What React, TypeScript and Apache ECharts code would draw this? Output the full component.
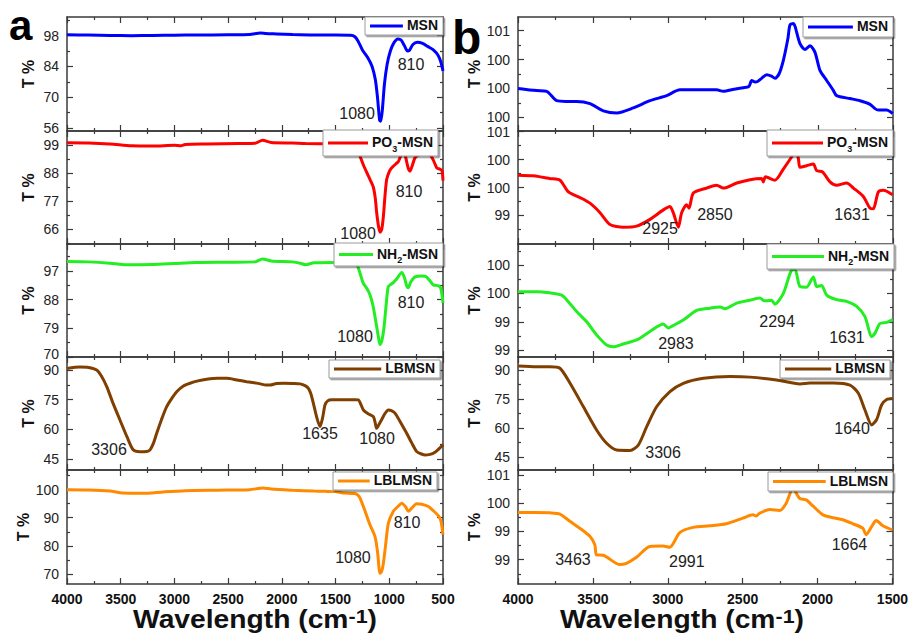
import React, { useEffect, useRef } from 'react';
import * as echarts from 'echarts';

const FONT = "'Liberation Sans', Arial, Helvetica, sans-serif";

// ---------- Panel a (4000-500 cm-1) ----------
const msnA = [[4000,98.4],[3800,98.3],[3600,98.1],[3400,98.0],[3200,98.1],[3000,98.2],[2800,98.3],[2500,98.4],[2300,98.5],[2200,99.2],[2150,99.0],[2050,98.8],[1900,98.5],[1700,98.3],[1500,98.3],[1360,98.2],[1320,97.5],[1290,95.5],[1250,91.5],[1200,88],[1160,84],[1130,78],[1110,70],[1090,59.5],[1080,59],[1065,64],[1045,76],[1020,85],[990,91],[960,94.5],[920,96.5],[890,96],[860,93.5],[830,91],[810,91.5],[780,94],[740,95],[690,94.5],[640,93],[590,91.5],[545,89],[520,86],[500,82]];
const po3A = [[4000,99.8],[3800,99.7],[3600,99.3],[3400,98.6],[3200,98.5],[3000,98.8],[2940,98.6],[2900,99.1],[2700,99.3],[2400,99.5],[2250,99.6],[2180,100.8],[2100,99.9],[1900,99.7],[1780,99.5],[1500,99.4],[1350,99.3],[1300,97.5],[1272,94.5],[1240,91],[1210,88.2],[1180,85.5],[1149,82.5],[1130,78],[1118,72.7],[1100,67],[1086,64.8],[1070,66],[1055,71],[1040,79],[1024,85.5],[1000,88.5],[977,90],[940,91.5],[915,92.5],[890,95],[870,96],[850,94.5],[825,90],[807,88.7],[785,91],[760,94],[720,95.2],[680,95.5],[640,95.4],[618,95],[590,93],[558,90],[530,89.5],[510,89],[500,85]];
const nh2A = [[4000,99.9],[3800,99.8],[3600,99.4],[3450,98.9],[3200,99.0],[3000,99.3],[2800,99.6],[2500,99.7],[2250,99.8],[2180,100.7],[2100,100.1],[1900,99.8],[1820,99.3],[1780,98.9],[1700,99.5],[1500,99.6],[1330,99.4],[1300,98.8],[1270,96],[1244,93.2],[1210,91.5],[1180,89.5],[1150,85.8],[1118,79.6],[1100,76],[1086,73.9],[1070,75],[1050,79],[1030,86],[1010,92],[985,92.8],[965,93.2],[930,94.5],[884,96.5],[860,95],[840,92.5],[824,91.7],[800,93.5],[760,95.1],[700,95.4],[660,95.2],[620,93.8],[590,92.6],[540,92.3],[520,91.5],[500,87]];
const lbA = [[4000,90.8],[3880,91.5],[3800,91.3],[3724,90],[3680,87],[3630,81.6],[3570,73],[3507,64.7],[3440,56],[3384,49.6],[3322,48.7],[3260,48.8],[3227,49.6],[3195,53],[3165,58],[3120,65],[3072,71.5],[3020,76],[2979,79],[2920,81.8],[2855,83.3],[2780,84.5],[2700,85.3],[2600,85.8],[2513,85.8],[2420,85],[2327,84.1],[2200,83],[2150,82.4],[2110,82.4],[2050,83.2],[1986,83.3],[1900,83.2],[1831,83],[1780,82],[1753,80.7],[1730,78],[1707,73.2],[1675,66],[1645,61.4],[1620,66],[1598,72.4],[1570,74.5],[1536,74.9],[1400,75],[1320,75],[1288,74.9],[1260,72],[1241,69.8],[1200,68],[1148,66.4],[1130,63],[1118,60.5],[1095,62.5],[1070,65],[1040,68],[1009,69.8],[980,69.5],[947,68.2],[900,64],[838,58],[790,53],[744,48.7],[700,47.5],[667,47],[620,47.3],[590,47.9],[550,49.5],[500,52.1]];
const lblA = [[4000,100],[3800,99.9],[3600,99.5],[3478,98.8],[3300,98.7],[3100,99.2],[2900,99.6],[2600,99.8],[2300,100],[2175,100.6],[2100,100.2],[1900,99.8],[1700,99.5],[1600,99.4],[1500,99.3],[1430,98.8],[1320,98.6],[1290,98],[1272,97],[1225,92.3],[1180,87.5],[1133,83.3],[1110,78],[1086,70.2],[1070,71],[1055,73.8],[1035,80],[1009,88],[962,92.3],[920,94],[884,95.2],[850,94],[822,92.3],[790,93.5],[744,95],[700,94.8],[636,94],[590,92.5],[543,90.7],[520,89],[500,84]];

// ---------- Panel b (4000-1500 cm-1) ----------
const msnB = [[4000,100.0],[3876,99.97],[3809,99.96],[3742,99.83],[3680,99.82],[3609,99.82],[3520,99.79],[3431,99.69],[3342,99.66],[3231,99.73],[3120,99.83],[3009,99.9],[2920,99.98],[2800,99.98],[2676,99.98],[2631,99.96],[2560,99.99],[2498,100.01],[2460,100.03],[2442,100.11],[2420,100.09],[2400,100.1],[2376,100.14],[2342,100.19],[2310,100.17],[2287,100.14],[2260,100.2],[2231,100.39],[2200,100.7],[2187,100.88],[2165,100.9],[2153,100.86],[2120,100.62],[2087,100.54],[2053,100.59],[2020,100.5],[1987,100.25],[1942,100.11],[1900,99.98],[1876,99.9],[1787,99.86],[1720,99.83],[1653,99.78],[1620,99.72],[1598,99.7],[1542,99.7],[1520,99.68],[1502,99.65]];
const po3B = [[4000,99.72],[3898,99.71],[3850,99.69],[3787,99.66],[3720,99.63],[3664,99.42],[3587,99.32],[3520,99.22],[3453,99.05],[3387,98.84],[3298,98.79],[3209,98.81],[3120,98.93],[3031,99.1],[2987,99.16],[2965,99.05],[2931,98.79],[2909,99.05],[2876,99.19],[2860,99.13],[2831,99.4],[2742,99.49],[2676,99.54],[2631,99.49],[2542,99.58],[2453,99.64],[2376,99.66],[2365,99.6],[2350,99.69],[2287,99.63],[2231,99.83],[2164,100.1],[2150,100.25],[2130,100.0],[2120,99.86],[2076,99.89],[2031,99.92],[2009,99.8],[1970,99.78],[1920,99.6],[1876,99.54],[1809,99.58],[1764,99.49],[1698,99.34],[1653,99.13],[1631,99.12],[1598,99.42],[1564,99.45],[1502,99.37]];
const nh2B = [[4000,99.53],[3876,99.53],[3787,99.51],[3709,99.47],[3676,99.39],[3609,99.18],[3542,99.0],[3476,98.77],[3409,98.59],[3364,98.56],[3298,98.61],[3209,98.68],[3120,98.83],[3031,98.96],[2998,98.89],[2975,98.92],[2898,99.03],[2809,99.2],[2720,99.24],[2653,99.26],[2620,99.23],[2542,99.33],[2453,99.38],[2387,99.42],[2360,99.37],[2342,99.37],[2310,99.38],[2287,99.31],[2231,99.5],[2176,99.91],[2153,99.92],[2120,99.62],[2076,99.61],[2031,99.79],[2009,99.62],[1976,99.64],[1942,99.47],[1876,99.39],[1809,99.36],[1742,99.27],[1687,99.09],[1642,98.74],[1620,98.8],[1587,98.97],[1542,98.99],[1502,99.04]];
const lbB = [[4000,92.1],[3876,91.7],[3787,91.7],[3720,90.9],[3653,83.1],[3564,71],[3476,59],[3409,52.1],[3342,48.6],[3253,48.4],[3198,51.2],[3142,60.7],[3076,71],[2987,78.8],[2898,83.1],[2764,85.7],[2587,86.6],[2453,86.3],[2276,84.8],[2120,82.8],[2053,83.3],[1898,83.3],[1787,82.2],[1731,78],[1687,69.3],[1642,61.6],[1609,64.4],[1576,71.9],[1542,74.7],[1502,75.2]];
const lblB = [[4000,99.77],[3898,99.77],[3787,99.76],[3720,99.73],[3653,99.55],[3587,99.38],[3520,99.18],[3487,98.97],[3476,98.72],[3431,98.71],[3320,98.48],[3276,98.51],[3209,98.66],[3120,98.93],[3031,98.94],[2987,98.91],[2920,99.27],[2831,99.4],[2720,99.44],[2609,99.49],[2498,99.63],[2431,99.71],[2410,99.68],[2387,99.75],[2320,99.84],[2253,99.82],[2209,100.0],[2164,100.37],[2120,100.12],[2076,100.08],[2031,99.93],[1964,99.71],[1898,99.64],[1831,99.59],[1764,99.49],[1698,99.38],[1676,99.22],[1631,99.47],[1609,99.57],[1564,99.44],[1502,99.34]];

// ---------- names, colours, axes ----------
const seriesNames = ['MSN', 'PO3-MSN', 'NH2-MSN', 'LBMSN', 'LBLMSN'];
const legendParts = [['MSN', '', ''], ['PO', '3', '-MSN'], ['NH', '2', '-MSN'], ['LBMSN', '', ''], ['LBLMSN', '', '']];
const seriesColors = ['#0000ff', '#ff0000', '#22ee22', '#7f3f00', '#ff8a00'];

const yMinA = [54.6, 60.2, 70, 39.4, 66.4];
const yMaxA = [106.5, 104.4, 105.4, 96.6, 107];
const yTicksA = [[56, 70, 84, 98], [66, 77, 88, 99], [70, 79, 88, 97], [45, 60, 75, 90], [70, 80, 90, 100]];
const yMinorA = [[63, 77, 91, 105], [60.5, 71.5, 82.5, 93.5], [74.5, 83.5, 92.5, 101.5], [52.5, 67.5, 82.5], [75, 85, 95, 105]];

const yMinB = [99.41, 98.49, 98.38, 38.3, 98.0];
const yMaxB = [100.99, 100.51, 100.37, 96.7, 100.82];
const yTicksB = [[99.6, 100, 100.4, 100.8], [99, 99.5, 100, 100.5], [98.5, 99, 99.5, 100], [45, 60, 75, 90], [98.6, 99.3, 100, 100.7]];
const yMinorB = [[99.8, 100.2, 100.6], [98.75, 99.25, 99.75, 100.25], [98.75, 99.25, 99.75, 100.25], [52.5, 67.5, 82.5], [98.25, 98.95, 99.65, 100.35]];

const annA = [
  [['1080', 1300, 62.4], ['810', 798, 84.7]],
  [['810', 816, 80.9], ['1080', 1291, 64.3]],
  [['810', 798, 87], ['1080', 1319, 76.4]],
  [['3306', 3609, 49.6], ['1635', 1645, 57.7], ['1080', 1114, 55.2]],
  [['810', 835, 88.2], ['1080', 1338, 75.7]],
];
const annB = [
  [],
  [['2925', 3053, 98.76], ['2850', 2687, 99.02], ['1631', 1773, 99.02]],
  [['2983', 2947, 98.61], ['2294', 2273, 99.0], ['1631', 1807, 98.73]],
  [['3306', 3033, 47.6], ['1640', 1773, 60.0]],
  [['3463', 3633, 98.6], ['2991', 2873, 98.55], ['1664', 1787, 98.97]],
];

export default function App() {
  const ref = useRef<HTMLDivElement>(null);
  useEffect(() => {
    if (!ref.current) return;
    const chart = echarts.init(ref.current, null, { renderer: 'svg' });
    const canvas = document.createElement('canvas');
    const ctx = canvas.getContext('2d')!;
    const measure = (s: string, size: number) => {
      ctx.font = `bold ${size}px "Liberation Sans"`;
      return ctx.measureText(s).width;
    };

    const panels = [
      { left: 67, right: 443, min: 500, data: [msnA, po3A, nh2A, lbA, lblA], yMin: yMinA, yMax: yMaxA, ticks: yTicksA, minor: yMinorA, ann: annA, round: false, nameGap: 31,
        leg: [[365, 17, 443, 35], [323, 130, 438, 156], [334, 243, 443, 266], [329, 360, 440, 378], [333, 472, 437, 490]] },
      { left: 518, right: 893, min: 1500, data: [msnB, po3B, nh2B, lbB, lblB], yMin: yMinB, yMax: yMaxB, ticks: yTicksB, minor: yMinorB, ann: annB, round: true, nameGap: 36,
        leg: [[803, 17, 893, 37], [767, 130, 893, 156], [767, 244, 894, 269], [780, 360, 890, 378], [768, 472, 893, 491]] },
    ];
    const tops = [17, 131, 244, 357, 470];
    const bottom = 584;
    const frame = '#3a3a3a';
    const grids: any[] = [], xAxes: any[] = [], yAxes: any[] = [], series: any[] = [], graphics: any[] = [];

    panels.forEach((p) => {
      for (let r = 0; r < 5; r++) {
        const g = grids.length;
        const top = tops[r];
        const h = (r < 4 ? tops[r + 1] : bottom) - top;
        grids.push({ left: p.left, top, width: p.right - p.left, height: h, containLabel: false });
        const axisLine = { show: true, onZero: false, lineStyle: { color: frame, width: 1.5 } };
        const xBase = {
          type: 'value', gridIndex: g, min: p.min, max: 4000, interval: 500, inverse: true,
          splitLine: { show: false }, axisLine,
          axisTick: { show: true, inside: true, length: 6, lineStyle: { color: frame, width: 1.2 } },
          minorTick: { show: true, splitNumber: 2, length: 3, lineStyle: { color: frame, width: 1.2 } },
        };
        xAxes.push({ ...xBase, position: 'bottom',
          axisLabel: r === 4 ? { show: true, showMinLabel: true, showMaxLabel: true, margin: 8, fontSize: 14, fontWeight: 'bold', color: '#111', fontFamily: FONT,
            formatter: (v: number) => String(v) } : { show: false } });
        xAxes.push({ ...xBase, position: 'top', axisLabel: { show: false } });

        const yBase = { type: 'value', gridIndex: g, min: p.yMin[r], max: p.yMax[r], splitLine: { show: false } };
        const tickStyle = { color: frame, width: 1.2 };
        const lowEdge = p.yMin[r];
        yAxes.push({ ...yBase, position: 'left', axisLine,
          axisTick: { show: true, inside: true, length: 6, customValues: p.ticks[r], lineStyle: tickStyle },
          axisLabel: { show: true, customValues: p.ticks[r], margin: 8, fontSize: 14, color: '#222', fontFamily: FONT,
            formatter: (v: number) => {
              const s = p.round ? String(Math.round(v)) : String(v);
              return Math.abs(v - lowEdge) < 1e-6 ? `{u|${s}}` : s;
            },
            rich: { u: { fontSize: 14, color: '#222', fontFamily: FONT, padding: [0, 0, 6, 0] } } },
          name: 'T %', nameLocation: 'middle', nameGap: p.nameGap, nameRotate: 90,
          nameTextStyle: { fontSize: 16, fontWeight: 'bold', color: '#111', fontFamily: FONT } });
        yAxes.push({ ...yBase, position: 'right', axisLine,
          axisTick: { show: true, inside: true, length: 6, customValues: p.ticks[r], lineStyle: tickStyle }, axisLabel: { show: false } });
        yAxes.push({ ...yBase, position: 'left', axisLine: { show: false },
          axisTick: { show: true, inside: true, length: 3, customValues: p.minor[r], lineStyle: tickStyle }, axisLabel: { show: false } });
        yAxes.push({ ...yBase, position: 'right', axisLine: { show: false },
          axisTick: { show: true, inside: true, length: 3, customValues: p.minor[r], lineStyle: tickStyle }, axisLabel: { show: false } });

        series.push({
          type: 'line', name: seriesNames[r], xAxisIndex: 2 * g, yAxisIndex: 4 * g, data: p.data[r],
          showSymbol: false, symbol: 'none', smooth: 0.25, silent: true,
          lineStyle: { color: seriesColors[r], width: 3 }, itemStyle: { color: seriesColors[r] },
          markPoint: {
            symbol: 'rect', symbolSize: 1, silent: true, itemStyle: { color: 'rgba(0,0,0,0)' },
            label: { show: true, position: 'inside', formatter: '{b}', fontSize: 16, color: '#222', fontFamily: FONT },
            data: p.ann[r].map((a: any) => ({ name: a[0], coord: [a[1], a[2]] })),
          },
        });

        // legend box
        const [x0, y0, x1, y1] = p.leg[r];
        const [t1, sub, t2] = legendParts[r];
        const tw = measure(t1 + t2, 14) + (sub ? measure(sub, 9) : 0);
        const tx = x1 - 5 - tw;
        const cy = (y0 + y1) / 2;
        graphics.push({
          type: 'group', z: 100,
          children: [
            { type: 'rect', z: 100, shape: { x: x0, y: y0, width: x1 - x0, height: y1 - y0 },
              style: { fill: '#fff', stroke: '#9a9a9a', lineWidth: 1, shadowColor: 'rgba(0,0,0,0.45)', shadowOffsetX: 1.5, shadowOffsetY: 1.5, shadowBlur: 1 } },
            { type: 'line', z: 101, shape: { x1: x0 + 5, y1: cy, x2: tx - 4, y2: cy }, style: { stroke: seriesColors[r], lineWidth: 3 } },
            { type: 'text', z: 101, x: tx, y: cy - 8,
              style: {
                text: sub ? `{t|${t1}}{s|${sub}}{t|${t2}}` : `{t|${t1}}`,
                verticalAlign: 'top', align: 'left',
                rich: {
                  t: { fontSize: 14, fontWeight: 'bold', lineHeight: 16, verticalAlign: 'top', fill: '#111', fontFamily: FONT },
                  s: { fontSize: 9, fontWeight: 'bold', lineHeight: 11, padding: [9, 0, 0, 0], verticalAlign: 'top', fill: '#111', fontFamily: FONT },
                },
              } },
          ],
        });
      }
    });

    // x-axis titles
    const titleRich = {
      m: { fontSize: 25, fontWeight: 'bold', lineHeight: 28, verticalAlign: 'top', fill: '#111', fontFamily: FONT },
      s: { fontSize: 19, fontWeight: 'bold', lineHeight: 16, verticalAlign: 'top', fill: '#111', fontFamily: FONT },
    };
    [255, 682].forEach((cx) => {
      graphics.push({ type: 'text', z: 100, x: cx, y: 607, scaleX: 1.13,
        style: { text: '{m|Wavelength (cm}{s|-1}{m|)}', align: 'center', verticalAlign: 'top', rich: titleRich } });
    });
    // panel letters
    graphics.push({ type: 'text', z: 100, x: 9, y: 25, style: { text: 'a', fontSize: 42, fontWeight: 'bold', fill: '#000', fontFamily: FONT, verticalAlign: 'middle', align: 'left' } });
    graphics.push({ type: 'text', z: 100, x: 452, y: 37, style: { text: 'b', fontSize: 48, fontWeight: 'bold', fill: '#000', fontFamily: FONT, verticalAlign: 'middle', align: 'left' } });

    chart.setOption({
      animation: false,
      backgroundColor: '#fff',
      textStyle: { fontFamily: FONT },
      grid: grids,
      xAxis: xAxes,
      yAxis: yAxes,
      series,
      graphic: graphics,
    });
    return () => chart.dispose();
  }, []);

  return <div ref={ref} style={{ position: 'absolute', left: 0, top: 0, width: 911, height: 636 }} />;
}
